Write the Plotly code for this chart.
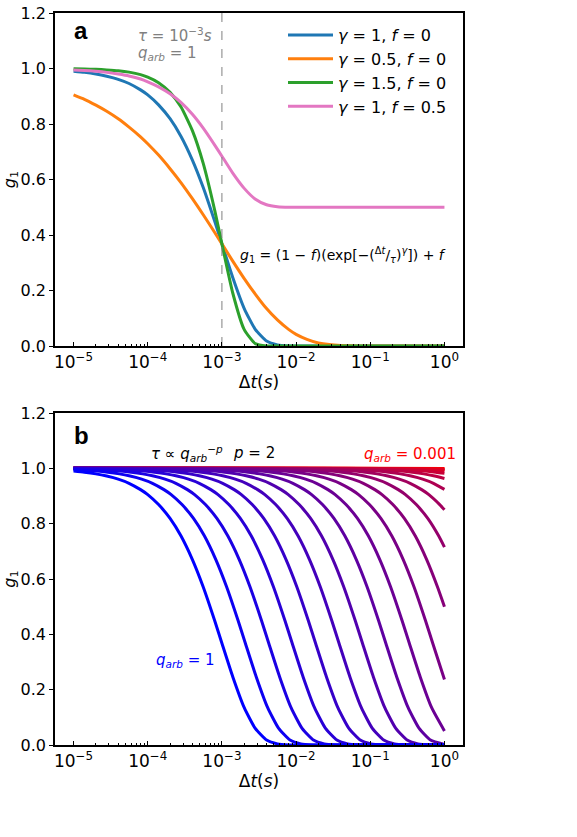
import plotly.graph_objects as go

# ---------------- data: panel a ----------------
dt_a = [1e-5, 1.4e-5, 2e-5, 2.8e-5, 4e-5, 5.6e-5, 8e-5,
        1e-4, 1.4e-4, 2e-4, 2.8e-4, 4e-4, 5.6e-4, 8e-4,
        1e-3, 1.4e-3, 2e-3, 2.8e-3, 4e-3, 5.6e-3, 8e-3,
        1e-2, 1.4e-2, 2e-2, 2.8e-2, 4e-2, 5.6e-2, 8e-2,
        0.1, 0.3, 1.0]
g_gamma1_f0 = [0.990, 0.986, 0.980, 0.972, 0.961, 0.946, 0.923,
               0.905, 0.869, 0.819, 0.756, 0.670, 0.571, 0.449,
               0.368, 0.247, 0.135, 0.061, 0.018, 0.004, 0.0003,
               0.0, 0.0, 0.0, 0.0, 0.0, 0.0, 0.0,
               0.0, 0.0, 0.0]
g_gamma05_f0 = [0.905, 0.889, 0.868, 0.846, 0.819, 0.789, 0.754,
                0.729, 0.688, 0.639, 0.589, 0.531, 0.473, 0.409,
                0.368, 0.306, 0.243, 0.188, 0.135, 0.094, 0.059,
                0.042, 0.024, 0.011, 0.005, 0.002, 0.0006, 0.0001,
                0.0, 0.0, 0.0]
g_gamma15_f0 = [0.999, 0.998, 0.997, 0.995, 0.992, 0.987, 0.978,
                0.969, 0.949, 0.914, 0.862, 0.776, 0.658, 0.489,
                0.368, 0.191, 0.059, 0.0092, 0.0003, 0.0, 0.0,
                0.0, 0.0, 0.0, 0.0, 0.0, 0.0, 0.0,
                0.0, 0.0, 0.0]
g_gamma1_f05 = [0.995, 0.993, 0.990, 0.986, 0.980, 0.973, 0.962,
                0.952, 0.934, 0.909, 0.878, 0.835, 0.785, 0.724,
                0.684, 0.623, 0.568, 0.530, 0.509, 0.502, 0.500,
                0.5, 0.5, 0.5, 0.5, 0.5, 0.5, 0.5,
                0.5, 0.5, 0.5]
labels_a = ["<i>γ</i> = 1, <i>f</i> = 0", "<i>γ</i> = 0.5, <i>f</i> = 0",
            "<i>γ</i> = 1.5, <i>f</i> = 0", "<i>γ</i> = 1, <i>f</i> = 0.5"]
tau_a = 1e-3

# ---------------- data: panel b ----------------
# common decay profile (g1 vs Δt/τ)
profile_u = [1e-8, 1e-4, 1e-3, 3e-3,
             0.01, 0.014, 0.02, 0.028, 0.04, 0.056, 0.08,
             0.1, 0.14, 0.2, 0.28, 0.4, 0.56, 0.8,
             1.0, 1.4, 2.0, 2.8, 4.0, 5.6, 8.0,
             10.0, 14.0, 1e6]
profile_g = [1.0, 1.0, 0.999, 0.997,
             0.990, 0.986, 0.980, 0.972, 0.961, 0.946, 0.923,
             0.905, 0.869, 0.819, 0.756, 0.670, 0.571, 0.449,
             0.368, 0.247, 0.135, 0.061, 0.018, 0.004, 0.0003,
             0.0, 0.0, 0.0]
# relaxation time of each curve (q_arb = 1 ... 0.001)
tau_b = [1.0e-3, 2.07e-3, 4.28e-3, 8.86e-3, 1.83e-2, 3.79e-2, 7.85e-2, 0.162, 0.336, 0.695,
         1.44, 2.98, 6.16, 12.7, 26.4, 54.6, 113.0, 234.0, 483.0, 1000.0]
start_b = [0.99, 0.995, 0.998, 0.999, 1.0, 1.0, 1.0, 1.0, 1.0, 1.0,
           1.0, 1.0, 1.0, 1.0, 1.0, 1.0, 1.0, 1.0, 1.0, 1.0]
end_b = [0.0, 0.0, 0.0, 0.0, 0.0, 0.0, 0.0, 0.002, 0.051, 0.237,
         0.50, 0.715, 0.85, 0.924, 0.963, 0.982, 0.991, 0.996, 0.998, 0.999]
dt_min, dt_max = 1e-5, 1.0

xtick_vals = [1e-5, 1e-4, 1e-3, 1e-2, 1e-1, 1.0]
xtick_text = ["10<sup>−5</sup>", "10<sup>−4</sup>", "10<sup>−3</sup>", "10<sup>−2</sup>",
              "10<sup>−1</sup>", "10<sup>0</sup>"]
ytick_vals = [0.0, 0.2, 0.4, 0.6, 0.8, 1.0, 1.2]

# ---------------- figure ----------------
W, H = 577, 837
FONT = "DejaVu Sans"


def px(x):
    return x / W


def py(y):
    return 1 - y / H


fig = go.Figure()

colors_a = ["#1f77b4", "#ff7f0e", "#2ca02c", "#e377c2"]
series_a = [g_gamma1_f0, g_gamma05_f0, g_gamma15_f0, g_gamma1_f05]
for ys, c, lab in zip(series_a, colors_a, labels_a):
    fig.add_trace(go.Scatter(x=dt_a, y=ys, mode="lines", name=lab,
                             line=dict(color=c, width=3, shape="spline", smoothing=0.5),
                             xaxis="x", yaxis="y"))

# dashed line at tau
fig.add_trace(go.Scatter(x=[tau_a, tau_a], y=[0, 1.2], mode="lines", showlegend=False,
                         line=dict(color="gray", width=1, dash="dash"), xaxis="x", yaxis="y"))

# panel b curves: q=0.001 (red) first, q=1 (blue) last
n = len(tau_b)
for i in reversed(range(n)):
    t = tau_b[i]
    xs = [dt_min]
    ys = [start_b[i]]
    for u, g in zip(profile_u, profile_g):
        xv = u * t
        if dt_min * 1.12 < xv < dt_max / 1.12:
            xs.append(xv)
            ys.append(g)
    xs.append(dt_max)
    ys.append(end_b[i])
    frac = i / (n - 1)
    col = f"rgb({round(255 * frac)},0,{round(255 * (1 - frac))})"
    fig.add_trace(go.Scatter(x=xs, y=ys, mode="lines", showlegend=False,
                             line=dict(color=col, width=3, shape="spline", smoothing=0.5),
                             xaxis="x2", yaxis="y2"))

xdom = [px(55), px(463)]
axis_common_x = dict(type="log", range=[-5.25, 0.25], tickvals=xtick_vals, ticktext=xtick_text,
                     ticks="inside", ticklen=4, tickwidth=1, tickcolor="black",
                     showline=True, linecolor="black", linewidth=1.5, mirror=True,
                     showgrid=False, zeroline=False, automargin=False,
                     tickfont=dict(family=FONT, size=17, color="black"),
                     minor=dict(ticks="inside", ticklen=2, tickcolor="black",
                                tickvals=[m * 10 ** e for e in range(-5, 0) for m in range(2, 10)],
                                showgrid=False),
                     title=dict(text="Δ<i>t</i>(<i>s</i>)", font=dict(family=FONT, size=17, color="black"),
                                standoff=3),
                     domain=xdom)
axis_common_y = dict(range=[0, 1.2], tickvals=ytick_vals, tickformat=".1f",
                     ticks="outside", ticklen=4, tickwidth=1, tickcolor="black",
                     showline=True, linecolor="black", linewidth=1.5, mirror=True,
                     showgrid=False, zeroline=False, automargin=False,
                     tickfont=dict(family=FONT, size=16, color="black"),
                     title=dict(text="<i>g</i><sub>1</sub>", font=dict(family=FONT, size=16, color="black"),
                                standoff=8))

fig.update_layout(
    width=W, height=H, margin=dict(l=0, r=0, t=0, b=0, autoexpand=False),
    paper_bgcolor="white", plot_bgcolor="white",
    font=dict(family=FONT, color="black"),
    xaxis=dict(axis_common_x, anchor="y"),
    yaxis=dict(axis_common_y, domain=[py(346), py(13)], anchor="x"),
    xaxis2=dict(axis_common_x, anchor="y2"),
    yaxis2=dict(axis_common_y, domain=[py(745), py(413)], anchor="x2"),
    legend=dict(x=px(283), y=py(18), xanchor="left", yanchor="top",
                bgcolor="rgba(0,0,0,0)", font=dict(family=FONT, size=16, color="black"),
                itemwidth=45, tracegroupgap=0),
)

ann = [
    dict(text="<b>a</b>", x=px(72), y=py(31), font=dict(family="Liberation Sans", size=24)),
    dict(text="<i>τ</i> = 10<sup>−3</sup><i>s</i>", x=px(136), y=py(35),
         font=dict(family=FONT, size=15, color="gray")),
    dict(text="<i>q</i><sub><i>arb</i></sub> = 1", x=px(136), y=py(54),
         font=dict(family=FONT, size=15, color="gray")),
    dict(text="<i>g</i><sub>1</sub> = (1 − <i>f</i>)(exp[−(<sup>Δ<i>t</i></sup>/<sub><i>τ</i></sub>)<sup><i>γ</i></sup>]) + <i>f</i>",
         x=px(238), y=py(255), font=dict(family=FONT, size=14, color="black")),
    dict(text="<b>b</b>", x=px(72), y=py(435), font=dict(family="Liberation Sans", size=24)),
    dict(text="<i>τ</i> ∝ <i>q</i><sub><i>arb</i></sub><sup>−<i>p</i></sup>", x=px(149), y=py(453),
         font=dict(family=FONT, size=15, color="black")),
    dict(text="<i>p</i> = 2", x=px(231), y=py(453), font=dict(family=FONT, size=15, color="black")),
    dict(text="<i>q</i><sub><i>arb</i></sub> = 0.001", x=px(362), y=py(454),
         font=dict(family=FONT, size=15, color="red")),
    dict(text="<i>q</i><sub><i>arb</i></sub> = 1", x=px(154), y=py(660),
         font=dict(family=FONT, size=15, color="blue")),
]
for a in ann:
    a.update(xref="paper", yref="paper", xanchor="left", yanchor="middle", showarrow=False)
    fig.add_annotation(**a)

fig.write_html("out.html")
